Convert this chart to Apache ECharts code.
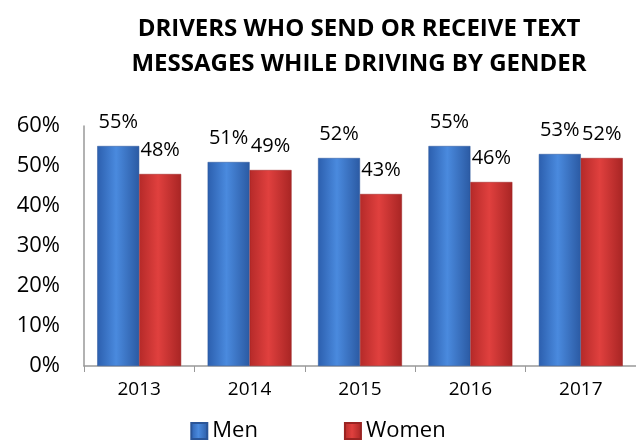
<!DOCTYPE html>
<html><head><meta charset="utf-8">
<script src="https://cdn.jsdelivr.net/npm/echarts@6/dist/echarts.min.js"></script>
<style>html,body{margin:0;padding:0;background:#fff}#c{width:636px;height:447px}</style>
</head><body><div id="c"></div>
<script>
const categories = ['2013','2014','2015','2016','2017'];
const men = [55, 51, 52, 55, 53];
const women = [48, 49, 43, 46, 52];
const yTicks = [0, 10, 20, 30, 40, 50, 60];

const FONT = '"Open Sans", "Liberation Sans", sans-serif';
function grad(a, b, c) {
  return new echarts.graphic.LinearGradient(0, 0, 1, 0, [
    {offset: 0, color: a}, {offset: 0.45, color: b}, {offset: 1, color: c}
  ]);
}
const blue = grad('#2c5fae', '#4a8ade', '#2b5aa3');
const red = grad('#b52a29', '#e0403e', '#a82524');

const chart = echarts.init(document.getElementById('c'));
chart.setOption({
  animation: false,
  title: {
    text: 'DRIVERS WHO SEND OR RECEIVE TEXT\nMESSAGES WHILE DRIVING BY GENDER',
    left: 354, top: 7, textAlign: 'center',
    textStyle: {fontFamily: FONT, fontWeight: 'bold', fontSize: 24, lineHeight: 35, color: '#000'}
  },
  legend: {
    data: ['Men', 'Women'],
    left: 'center', bottom: 0, itemGap: 86, itemWidth: 16, itemHeight: 16,
    textStyle: {fontFamily: FONT, fontSize: 22, color: '#000'},
    icon: 'rect'
  },
  grid: {left: 84, right: 0, top: 126, bottom: 81},
  xAxis: {
    type: 'category', data: categories,
    axisLine: {lineStyle: {color: '#999', width: 1.5}},
    axisTick: {show: true, length: 6, lineStyle: {color: '#999'}},
    axisLabel: {fontFamily: FONT, fontSize: 19, color: '#000', margin: 14}
  },
  yAxis: {
    type: 'value', min: 0, max: 60, interval: 10,
    axisLine: {show: true, lineStyle: {color: '#999', width: 1.5}},
    axisTick: {show: false},
    splitLine: {show: false},
    axisLabel: {fontFamily: FONT, fontSize: 22, color: '#000', margin: 24,
      formatter: v => yTicks.includes(v) ? v + '%' : ''}
  },
  series: [
    {name: 'Men', type: 'bar', data: men, barGap: '0%', barCategoryGap: '24%',
     itemStyle: {color: blue, borderColor: '#2a5598', borderWidth: 0.5},
     label: {show: true, position: 'top', distance: 14, formatter: '{c}%',
       fontFamily: FONT, fontSize: 20, color: '#000'}},
    {name: 'Women', type: 'bar', data: women,
     itemStyle: {color: red, borderColor: '#9a2322', borderWidth: 0.5},
     label: {show: true, position: 'top', distance: 14, formatter: '{c}%',
       fontFamily: FONT, fontSize: 20, color: '#000'}}
  ]
});
</script></body></html>
